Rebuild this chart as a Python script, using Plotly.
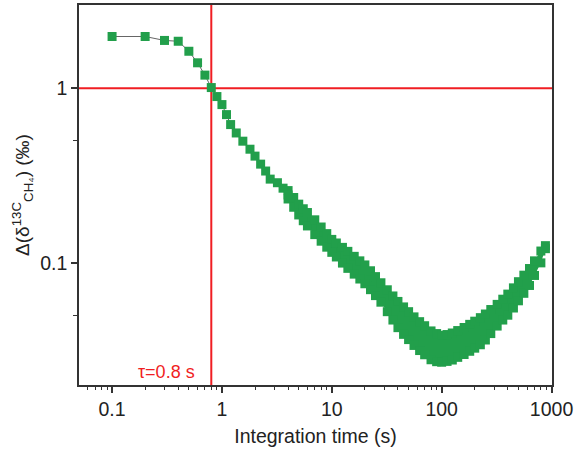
import math
import plotly.graph_objects as go

# ---- data ----
tau_early = [0.1, 0.2, 0.3, 0.4, 0.5, 0.6, 0.7, 0.8, 0.9, 1.0, 1.1, 1.2, 1.35,
             1.55, 1.8, 2.0, 2.25, 2.5, 2.75, 3.2, 3.6, 4.0]
dev_early = [1.98, 1.98, 1.88, 1.86, 1.63, 1.40, 1.19, 1.01, 0.897, 0.807, 0.707,
             0.620, 0.555, 0.498, 0.448, 0.409, 0.368, 0.336, 0.302, 0.288, 0.268, 0.245]

tau_band = [4, 4.5, 5, 5.5, 6, 7, 8, 9, 10, 11, 12.5, 14, 16, 18, 20, 22.5, 25, 28,
            32, 36, 40, 45, 50, 56, 63, 70, 80, 90, 100, 112, 125, 140, 160, 180,
            200, 225, 250, 280, 320, 360, 400, 450, 500, 560, 630, 700, 800, 880]
dev_upper = [0.2596, 0.2371, 0.2171, 0.2043, 0.1944, 0.1766, 0.1606, 0.1472, 0.1364,
             0.1301, 0.1228, 0.1165, 0.1091, 0.1028, 0.0974, 0.0902, 0.0835, 0.0770,
             0.0702, 0.0647, 0.0602, 0.0560, 0.0526, 0.0491, 0.0461, 0.0437, 0.0408,
             0.0394, 0.0385, 0.0389, 0.0397, 0.0410, 0.0427, 0.0445, 0.0464, 0.0486,
             0.0510, 0.0541, 0.0579, 0.0620, 0.0663, 0.0720, 0.0781, 0.0851, 0.0929,
             0.1028, 0.1170, 0.1256]
dev_lower = [0.2324, 0.2084, 0.1883, 0.1745, 0.1629, 0.1453, 0.1332, 0.1231, 0.1150,
             0.1082, 0.0998, 0.0931, 0.0863, 0.0809, 0.0760, 0.0703, 0.0650, 0.0596,
             0.0526, 0.0471, 0.0426, 0.0390, 0.0364, 0.0337, 0.0315, 0.0298, 0.0279,
             0.0272, 0.0270, 0.0273, 0.0278, 0.0288, 0.0299, 0.0312, 0.0325, 0.0340,
             0.0362, 0.0394, 0.0435, 0.0471, 0.0502, 0.0552, 0.0607, 0.0670, 0.0743,
             0.0848, 0.1001, 0.1207]

tau_marker = 0.8
dev_marker = 1.0
x_range = [0.05, 1010]
y_range = [0.02, 3.0]
x_ticks = [0.1, 1, 10, 100, 1000]
x_ticktext = ["0.1", "1", "10", "100", "1000"]
x_minor = [0.06, 0.07, 0.08, 0.09, 0.2, 0.3, 0.4, 0.5, 0.6, 0.7, 0.8, 0.9,
           2, 3, 4, 5, 6, 7, 8, 9, 20, 30, 40, 50, 60, 70, 80, 90,
           200, 300, 400, 500, 600, 700, 800, 900]
y_ticks = [0.1, 1]
y_ticktext = ["0.1", "1"]
y_minor = [0.05, 0.5]

GREEN = "#229f4b"
RED = "#f01e23"
AXC = "#333333"
TXT = "#222222"
FONT = "Liberation Sans, Arial, sans-serif"

fig = go.Figure()

# red reference lines
fig.add_trace(go.Scatter(x=[tau_marker, tau_marker], y=y_range, mode="lines",
                         line=dict(color=RED, width=2), hoverinfo="skip", showlegend=False))
fig.add_trace(go.Scatter(x=x_range, y=[dev_marker, dev_marker], mode="lines",
                         line=dict(color=RED, width=2), hoverinfo="skip", showlegend=False))

# dense band: lower edge then upper edge filled to it
fig.add_trace(go.Scatter(x=tau_band, y=dev_lower, mode="lines+markers",
                         line=dict(color=GREEN, width=0),
                         marker=dict(symbol="square", size=9, color=GREEN),
                         showlegend=False))
fig.add_trace(go.Scatter(x=tau_band, y=dev_upper, mode="lines+markers",
                         line=dict(color=GREEN, width=0), fill="tonexty",
                         fillcolor=GREEN,
                         marker=dict(symbol="square", size=9, color=GREEN),
                         showlegend=False))

# early discrete points with thin grey connecting line
fig.add_trace(go.Scatter(x=tau_early, y=dev_early, mode="lines+markers",
                         line=dict(color="#666666", width=1),
                         marker=dict(symbol="square", size=9, color=GREEN),
                         showlegend=False))

fig.add_annotation(text="τ=0.8 s", xref="paper", yref="paper", x=0.249, y=0.034,
                   xanchor="right", yanchor="middle", showarrow=False,
                   font=dict(family=FONT, size=18, color=RED))

fig.update_xaxes(type="log", range=[math.log10(x_range[0]), math.log10(x_range[1])],
                 tickvals=x_ticks, ticktext=x_ticktext, ticks="outside", ticklen=6,
                 tickwidth=1.5, tickcolor=AXC, showline=True, linecolor=AXC, linewidth=1.5,
                 mirror=True, showgrid=False, zeroline=False,
                 tickfont=dict(family=FONT, size=19.5, color=TXT),
                 minor=dict(tickvals=x_minor, ticks="outside", ticklen=3.5, tickwidth=1.2,
                            tickcolor=AXC, showgrid=False),
                 title=dict(text="Integration time (s)", standoff=10,
                            font=dict(family=FONT, size=19.5, color=TXT)))
fig.update_yaxes(type="log", range=[math.log10(y_range[0]), math.log10(y_range[1])],
                 tickvals=y_ticks, ticktext=y_ticktext, ticks="outside", ticklen=6,
                 tickwidth=1.5, tickcolor=AXC, showline=True, linecolor=AXC, linewidth=1.5,
                 mirror=True, showgrid=False, zeroline=False,
                 tickfont=dict(family=FONT, size=19.5, color=TXT),
                 minor=dict(tickvals=y_minor, ticks="outside", ticklen=4, tickwidth=1.2,
                            tickcolor=AXC, showgrid=False),
                 title=dict(text="Δ(δ<sup>13C</sup><sub>CH₄</sub>) (‰)", standoff=6,
                            font=dict(family=FONT, size=19, color=TXT)))

fig.update_layout(width=576, height=452, margin=dict(l=79, r=22, t=3, b=67),
                  paper_bgcolor="white", plot_bgcolor="white", showlegend=False)

fig.write_html("out.html")
